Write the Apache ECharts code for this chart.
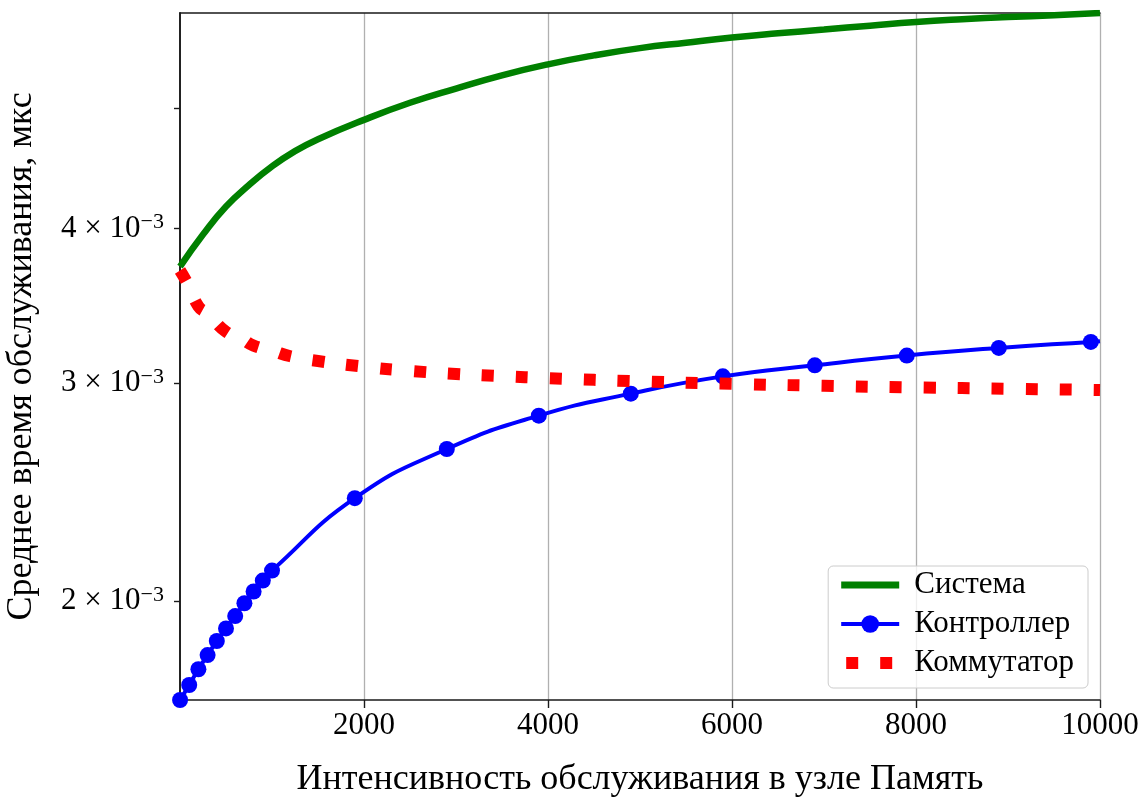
<!DOCTYPE html>
<html>
<head>
<meta charset="utf-8">
<script src="https://cdn.jsdelivr.net/npm/echarts@6/dist/echarts.min.js"></script>
<style>
  html, body { margin: 0; padding: 0; background: #ffffff; }
  #chart { width: 1144px; height: 798px; }
</style>
</head>
<body>
<div id="chart"></div>
<script>
// Mean service time (s) versus service intensity of the "Память" node.
const systemX = [0, 250, 500, 750, 1000, 1250, 1500, 2000, 2500, 3000, 3500, 4000, 4500,
                 5000, 5500, 6000, 6500, 7000, 7500, 8000, 8500, 9000, 9500, 10000];
const systemY = [0.003725, 0.003954, 0.004166, 0.004336, 0.004489, 0.004618, 0.004722,
                 0.004895, 0.005053, 0.005189, 0.005318, 0.005428, 0.005519, 0.005594,
                 0.005651, 0.005705, 0.005750, 0.005791, 0.005833, 0.005873, 0.005903,
                 0.005927, 0.005947, 0.005972];

const controllerX = [1, 100, 200, 300, 400, 500, 600, 700, 800, 900, 1000,
                     1900, 2900, 3900, 4900, 5900, 6900, 7900, 8900, 9900, 10000];
const controllerY = [0.001663, 0.001710, 0.001761, 0.001808, 0.001856, 0.001900, 0.001944,
                     0.001991, 0.002035, 0.002077, 0.002116, 0.002421, 0.002653, 0.002823,
                     0.002941, 0.003037, 0.003100, 0.003157, 0.003202, 0.003238, 0.003242];
// Samples of the controller curve that carry a marker
const controllerMarkedX = [1, 100, 200, 300, 400, 500, 600, 700, 800, 900, 1000,
                           1900, 2900, 3900, 4900, 5900, 6900, 7900, 8900, 9900];

const commutatorX = [0, 100, 200, 300, 500, 650, 800, 1000, 1200, 1500, 2000, 2500, 3000,
                     3500, 4000, 5000, 6000, 7000, 8000, 9000, 10000];
const commutatorY = [0.003698, 0.003590, 0.003460, 0.003413, 0.003300, 0.003264, 0.003216,
                     0.003186, 0.003153, 0.003125, 0.003092, 0.003068, 0.003051, 0.003038,
                     0.003027, 0.003009, 0.002995, 0.002984, 0.002975, 0.002968, 0.002961];

const seriesNames = ['Система', 'Контроллер', 'Коммутатор'];
const xTicks = [2000, 4000, 6000, 8000, 10000];
const yTickLabels = [0.002, 0.003, 0.004];
const yTickMarks = [0.002, 0.003, 0.004, 0.005];

const FONT = 'Liberation Serif';
const GREEN = '#008000', BLUE = '#0000ff', RED = '#ff0000';
const toPairs = (xs, ys) => xs.map((x, i) => [x, ys[i]]);

const controllerData = controllerX.map((x, i) =>
  controllerMarkedX.includes(x)
    ? [x, controllerY[i]]
    : { value: [x, controllerY[i]], symbol: 'none' });

const spine = { show: true, lineStyle: { color: '#1a1a1a', width: 1.6 } };
const dotted = [12, 22];

const chart = echarts.init(document.getElementById('chart'), null, { renderer: 'canvas' });
chart.setOption({
  animation: false,
  backgroundColor: '#ffffff',
  grid: { left: 180, right: 44, top: 13, bottom: 98, containLabel: false, outerBoundsMode: 'none' },
  xAxis: [{
    type: 'value',
    min: 0,
    max: 10000,
    interval: 2000,
    name: 'Интенсивность обслуживания в узле Память',
    nameLocation: 'middle',
    nameGap: 62,
    nameTextStyle: { fontFamily: FONT, fontSize: 36, color: '#000' },
    axisLine: spine,
    axisTick: { show: true, length: 8, customValues: xTicks, lineStyle: { color: '#1a1a1a', width: 1.4 } },
    axisLabel: {
      customValues: xTicks,
      margin: 10,
      formatter: v => String(v),
      fontFamily: FONT, fontSize: 31, color: '#000'
    },
    splitLine: { show: true, lineStyle: { color: '#b0b0b0', width: 1.3 } }
  }, {
    type: 'value',
    position: 'top',
    min: 0,
    max: 10000,
    axisLine: spine,
    axisTick: { show: false },
    axisLabel: { show: false },
    splitLine: { show: false }
  }],
  yAxis: [{
    type: 'log',
    logBase: 10,
    min: 0.001663,
    max: 0.005972,
    name: 'Среднее время обслуживания, мкс',
    nameLocation: 'middle',
    nameGap: 140,
    nameTextStyle: { fontFamily: FONT, fontSize: 36, color: '#000' },
    axisLine: spine,
    axisTick: { show: true, length: 6, customValues: yTickMarks, lineStyle: { color: '#1a1a1a', width: 1.4 } },
    minorTick: { show: false },
    axisLabel: {
      customValues: yTickLabels,
      margin: 16,
      formatter: v => '{m|' + Math.round(v * 1000) + ' × 10}{s|−3}',
      rich: {
        m: { fontFamily: FONT, fontSize: 31, color: '#000', lineHeight: 34 },
        s: { fontFamily: FONT, fontSize: 22, color: '#000', verticalAlign: 'top', lineHeight: 34 }
      }
    },
    splitLine: { show: false }
  }, {
    type: 'value',
    position: 'right',
    axisLine: spine,
    axisTick: { show: false },
    axisLabel: { show: false },
    splitLine: { show: false }
  }],
  legend: {
    data: [
      { name: seriesNames[0], itemStyle: { opacity: 0 }, lineStyle: { width: 7 } },
      { name: seriesNames[1], lineStyle: { width: 4 } },
      { name: seriesNames[2], itemStyle: { opacity: 0 },
        lineStyle: { width: 12, type: dotted, cap: 'butt', dashOffset: -5 } }
    ],
    orient: 'vertical',
    right: 56,
    top: 566,
    itemWidth: 58,
    itemHeight: 22,
    itemGap: 5,
    padding: [2, 14, 8, 7],
    backgroundColor: 'rgba(255,255,255,0.8)',
    borderColor: '#cccccc',
    borderWidth: 1,
    borderRadius: 5,
    textStyle: { fontFamily: FONT, fontSize: 31, color: '#000', lineHeight: 34, padding: [0, 0, 0, 10] }
  },
  series: [{
    name: seriesNames[0],
    type: 'line',
    data: toPairs(systemX, systemY),
    smooth: 0.5,
    symbol: 'none',
    color: GREEN,
    lineStyle: { color: GREEN, width: 6.5 },
    z: 3
  }, {
    name: seriesNames[1],
    type: 'line',
    data: controllerData,
    smooth: 0.5,
    symbol: 'circle',
    symbolSize: 16,
    showSymbol: true,
    color: BLUE,
    itemStyle: { color: BLUE },
    lineStyle: { color: BLUE, width: 4 },
    z: 4
  }, {
    name: seriesNames[2],
    type: 'line',
    data: toPairs(commutatorX, commutatorY),
    smooth: 0.5,
    symbol: 'none',
    color: RED,
    lineStyle: { color: RED, width: 12, type: dotted, cap: 'butt' },
    z: 5
  }]
});
</script>
</body>
</html>
